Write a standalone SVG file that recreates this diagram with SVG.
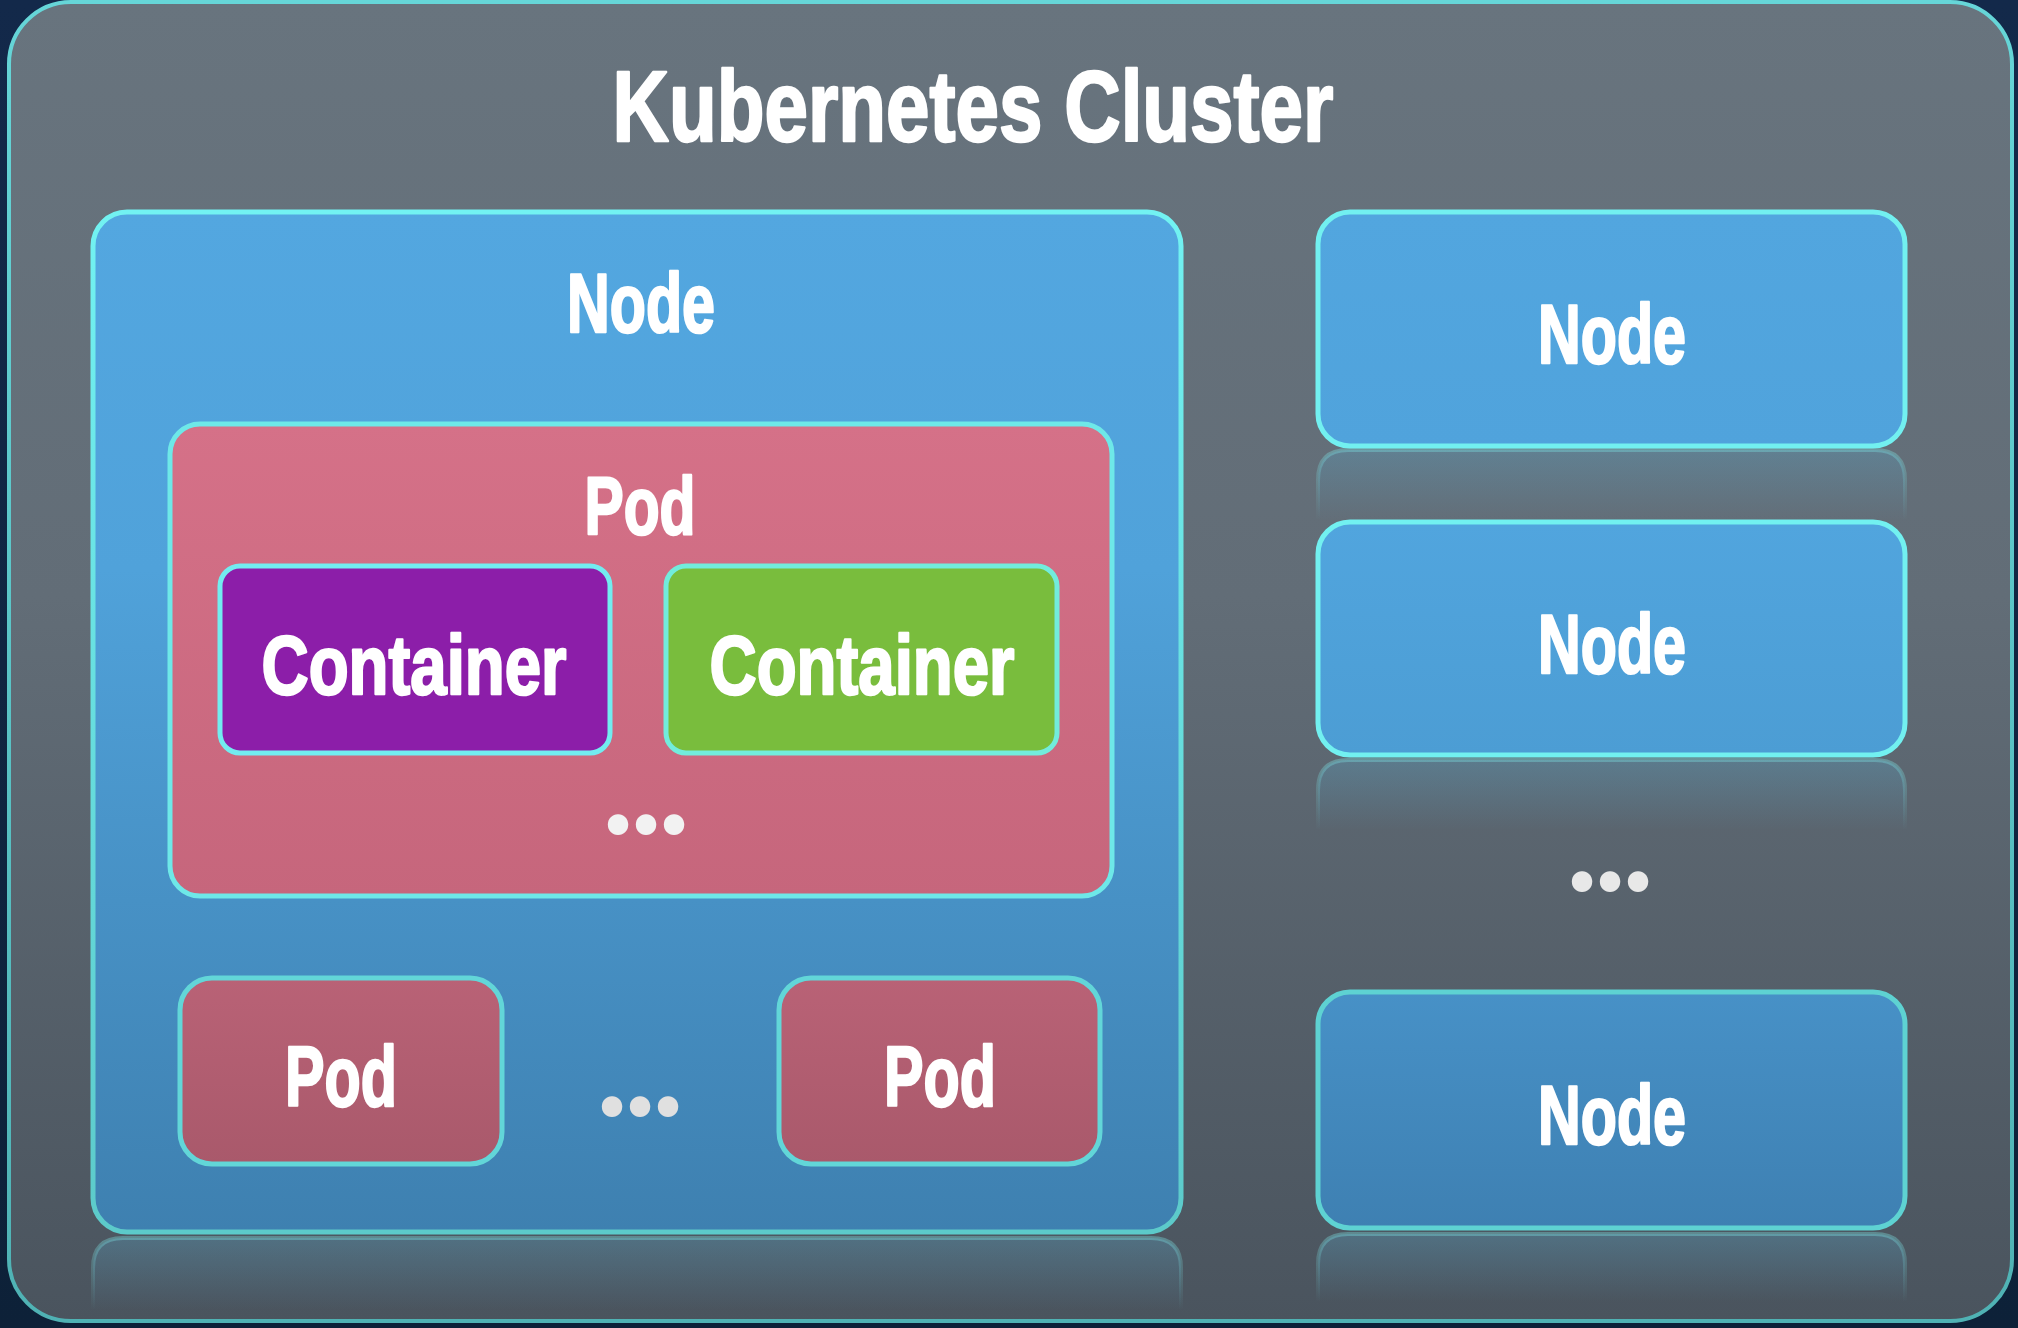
<svg xmlns="http://www.w3.org/2000/svg" width="2018" height="1328" viewBox="0 0 2018 1328">
  <defs>
    <linearGradient id="bg" x1="0" y1="0" x2="0" y2="1">
      <stop offset="0" stop-color="#13294a"/>
      <stop offset="1" stop-color="#0d2138"/>
    </linearGradient>
    <linearGradient id="gray" x1="0" y1="0" x2="0" y2="1">
      <stop offset="0" stop-color="#68747e"/>
      <stop offset="0.45" stop-color="#626d77"/>
      <stop offset="1" stop-color="#4a545e"/>
    </linearGradient>
    <linearGradient id="outerStroke" x1="0" y1="0" x2="0" y2="1">
      <stop offset="0" stop-color="#66d6d8"/>
      <stop offset="1" stop-color="#4fb2b4"/>
    </linearGradient>
    <linearGradient id="bigBlue" x1="0" y1="0" x2="0" y2="1">
      <stop offset="0" stop-color="#53a7e0"/>
      <stop offset="0.35" stop-color="#50a2da"/>
      <stop offset="1" stop-color="#3e80b0"/>
    </linearGradient>
    <linearGradient id="bigStroke" x1="0" y1="0" x2="0" y2="1">
      <stop offset="0" stop-color="#72f2f2"/>
      <stop offset="1" stop-color="#5ccaca"/>
    </linearGradient>
    <linearGradient id="bigPod" x1="0" y1="0" x2="0" y2="1">
      <stop offset="0" stop-color="#d57188"/>
      <stop offset="1" stop-color="#c6667c"/>
    </linearGradient>
    <linearGradient id="smallPod" x1="0" y1="0" x2="0" y2="1">
      <stop offset="0" stop-color="#b96276"/>
      <stop offset="1" stop-color="#a9596b"/>
    </linearGradient>
    <linearGradient id="n1" x1="0" y1="0" x2="0" y2="1">
      <stop offset="0" stop-color="#52a6df"/>
      <stop offset="1" stop-color="#50a3dc"/>
    </linearGradient>
    <linearGradient id="n2" x1="0" y1="0" x2="0" y2="1">
      <stop offset="0" stop-color="#51a5de"/>
      <stop offset="1" stop-color="#4c9dd4"/>
    </linearGradient>
    <linearGradient id="n3" x1="0" y1="0" x2="0" y2="1">
      <stop offset="0" stop-color="#4791c7"/>
      <stop offset="1" stop-color="#3e80b2"/>
    </linearGradient>
    <linearGradient id="refl" x1="0" y1="0" x2="0" y2="1">
      <stop offset="0" stop-color="#5aa6c8" stop-opacity="0.32"/>
      <stop offset="1" stop-color="#5aa6c8" stop-opacity="0"/>
    </linearGradient>
    <linearGradient id="reflStroke" x1="0" y1="0" x2="0" y2="1">
      <stop offset="0" stop-color="#7ee8e8" stop-opacity="0.35"/>
      <stop offset="1" stop-color="#7ee8e8" stop-opacity="0"/>
    </linearGradient>
    <linearGradient id="reflGreen" x1="0" y1="0" x2="0" y2="1">
      <stop offset="0" stop-color="#a4945c" stop-opacity="0.75"/>
      <stop offset="0.5" stop-color="#b8876c" stop-opacity="0.35"/>
      <stop offset="1" stop-color="#c87a80" stop-opacity="0"/>
    </linearGradient>
  </defs>
  <style>
    .lbl { font-family: "Liberation Sans", Arial, sans-serif; font-weight: bold; text-anchor: middle; fill: #ffffff; stroke: #ffffff; stroke-width: 2.5; stroke-linejoin: round; }
    .dots { font-family: "DejaVu Sans", sans-serif; font-weight: bold; text-anchor: middle; }
    .box { stroke-width: 5; }
    .refl { fill: url(#refl); stroke: url(#reflStroke); stroke-width: 4; }
  </style>

  <rect x="0" y="0" width="2018" height="1328" fill="url(#bg)"/>

  <g id="cluster">
    <rect x="9" y="2" width="2003" height="1319" rx="62" fill="url(#gray)" stroke="url(#outerStroke)" stroke-width="4"/>
    <text class="lbl" x="973" y="141" font-size="100" stroke-width="3" textLength="721" lengthAdjust="spacingAndGlyphs">Kubernetes Cluster</text>
  </g>

  <!-- reflections -->
  <g id="reflections">
    <path class="refl" d="M93,1310 V1268 Q93,1238 123,1238 H1151 Q1181,1238 1181,1268 V1310"/>
    <path class="refl" d="M1318,520 V480 Q1318,450 1348,450 H1875 Q1905,450 1905,480 V520"/>
    <path class="refl" d="M1318,830 V790 Q1318,760 1348,760 H1875 Q1905,760 1905,790 V830"/>
    <path class="refl" d="M1318,1302 V1264 Q1318,1234 1348,1234 H1875 Q1905,1234 1905,1264 V1302"/>
    <path d="M666,822 V778 Q666,758 686,758 H1037 Q1057,758 1057,778 V822" fill="url(#reflGreen)" stroke="url(#reflStroke)" stroke-width="4"/>
  </g>

  <g id="node-main">
    <rect class="box" x="93" y="212" width="1088" height="1020" rx="34" fill="url(#bigBlue)" stroke="url(#bigStroke)"/>
    <text class="lbl" x="641" y="332" font-size="83" textLength="148" lengthAdjust="spacingAndGlyphs">Node</text>
  </g>

  <g id="pod-main">
    <rect class="box" x="170" y="424" width="942" height="472" rx="30" fill="url(#bigPod)" stroke="#6ee8e8"/>
    <text class="lbl" x="640" y="534" font-size="82" textLength="111" lengthAdjust="spacingAndGlyphs">Pod</text>
    <text class="dots" x="641.5" y="847" font-size="58" fill="#f2f2f2" letter-spacing="-9">•••</text>
  </g>

  <g id="container-purple">
    <rect class="box" x="220" y="566" width="390" height="187" rx="20" fill="#8c1ea9" stroke="#72ecf0"/>
    <text class="lbl" x="414" y="694" font-size="83" textLength="305" lengthAdjust="spacingAndGlyphs">Container</text>
  </g>

  <g id="container-green">
    <rect class="box" x="666" y="566" width="391" height="187" rx="20" fill="#79bd3d" stroke="#72ecdc"/>
    <text class="lbl" x="862" y="694" font-size="83" textLength="305" lengthAdjust="spacingAndGlyphs" fill="#fbfff4" stroke="#fbfff4">Container</text>
  </g>

  <g id="pod-1">
    <rect class="box" x="180" y="978" width="322" height="186" rx="32" fill="url(#smallPod)" stroke="#62d6d8"/>
    <text class="lbl" x="341" y="1106" font-size="85" textLength="112" lengthAdjust="spacingAndGlyphs" fill="#e2e2e2" stroke="#e2e2e2">Pod</text>
  </g>

  <text class="dots" x="635.5" y="1129" font-size="58" fill="#e0e0e0" letter-spacing="-9">•••</text>

  <g id="pod-2">
    <rect class="box" x="779" y="978" width="321" height="186" rx="32" fill="url(#smallPod)" stroke="#62d6d8"/>
    <text class="lbl" x="940" y="1106" font-size="85" textLength="112" lengthAdjust="spacingAndGlyphs" fill="#e2e2e2" stroke="#e2e2e2">Pod</text>
  </g>

  <g id="node-1">
    <rect class="box" x="1318" y="212" width="587" height="234" rx="32" fill="url(#n1)" stroke="#72f0f0"/>
    <text class="lbl" x="1612" y="363" font-size="83" textLength="148" lengthAdjust="spacingAndGlyphs">Node</text>
  </g>

  <g id="node-2">
    <rect class="box" x="1318" y="522" width="587" height="233" rx="32" fill="url(#n2)" stroke="#72f0f0"/>
    <text class="lbl" x="1612" y="673" font-size="83" textLength="148" lengthAdjust="spacingAndGlyphs">Node</text>
  </g>

  <text class="dots" x="1605.5" y="904" font-size="58" fill="#e8e8e8" letter-spacing="-9">•••</text>

  <g id="node-3">
    <rect class="box" x="1318" y="992" width="587" height="236" rx="32" fill="url(#n3)" stroke="#5ed2d2"/>
    <text class="lbl" x="1612" y="1144" font-size="83" textLength="148" lengthAdjust="spacingAndGlyphs" fill="#dde1e4" stroke="#dde1e4">Node</text>
  </g>

  <g id="connectors"></g>
</svg>
